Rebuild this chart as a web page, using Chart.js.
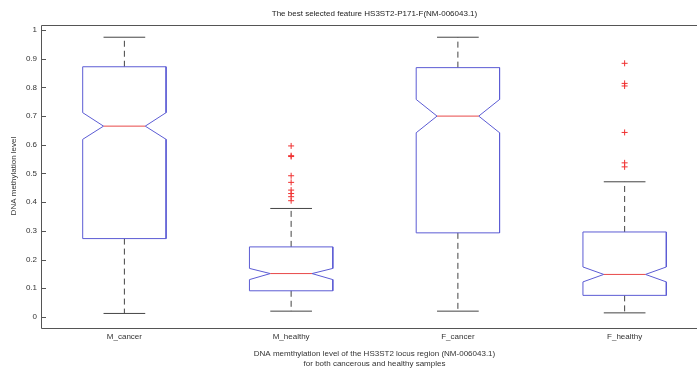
<!DOCTYPE html>
<html>
<head>
<meta charset="utf-8">
<script src="https://cdn.jsdelivr.net/npm/chart.js@4/dist/chart.umd.min.js"></script>
<style>
html,body{margin:0;padding:0;background:#fff;overflow:hidden;}
#wrap{width:720px;height:369px;}
</style>
</head>
<body>
<div id="wrap"><canvas id="c" width="720" height="369"></canvas></div>
<script>
// ---- data ----
const categories   = ['M_cancer', 'M_healthy', 'F_cancer', 'F_healthy'];
const upperWhisker = [0.975, 0.378, 0.975, 0.471];
const q3           = [0.872, 0.244, 0.869, 0.296];
const notchHigh    = [0.712, 0.169, 0.758, 0.174];
const medians      = [0.665, 0.151, 0.700, 0.148];
const notchLow     = [0.619, 0.130, 0.642, 0.122];
const q1           = [0.273, 0.091, 0.293, 0.075];
const lowerWhisker = [0.012, 0.020, 0.020, 0.014];
const outliers = [
  [],
  [0.596, 0.562, 0.559, 0.492, 0.469, 0.442, 0.430, 0.419, 0.405],
  [],
  [0.884, 0.814, 0.805, 0.643, 0.537, 0.523]
];
const yTickValues = [0, 0.1, 0.2, 0.3, 0.4, 0.5, 0.6, 0.7, 0.8, 0.9, 1];
const yTickLabels = ['0', '0.1', '0.2', '0.3', '0.4', '0.5', '0.6', '0.7', '0.8', '0.9', '1'];
const titleText = 'The best selected feature HS3ST2-P171-F(NM-006043.1)';
const xTitle = ['DNA memthylation level of the HS3ST2 locus region (NM-006043.1)', 'for both cancerous and healthy samples'];
const yTitle = 'DNA methylation level';

// ---- build line geometry from the values ----
const HALF = 0.25;      // half box width (x units)
const GAP = {x: null, y: null};
const boxPts = [], medPts = [], whiskPts = [], capPts = [], outPts = [];
categories.forEach((c, i) => {
  const x = i + 1;
  boxPts.push(
    {x: x - HALF, y: q1[i]}, {x: x - HALF, y: notchLow[i]}, {x: x - HALF / 2, y: medians[i]},
    {x: x - HALF, y: notchHigh[i]}, {x: x - HALF, y: q3[i]}, {x: x + HALF, y: q3[i]},
    {x: x + HALF, y: notchHigh[i]}, {x: x + HALF / 2, y: medians[i]}, {x: x + HALF, y: notchLow[i]},
    {x: x + HALF, y: q1[i]}, {x: x - HALF, y: q1[i]}, GAP);
  medPts.push({x: x - HALF / 2, y: medians[i]}, {x: x + HALF / 2, y: medians[i]}, GAP);
  whiskPts.push({x: x, y: q3[i]}, {x: x, y: upperWhisker[i]}, GAP,
                {x: x, y: q1[i]}, {x: x, y: lowerWhisker[i]}, GAP);
  capPts.push({x: x - HALF / 2, y: upperWhisker[i]}, {x: x + HALF / 2, y: upperWhisker[i]}, GAP,
              {x: x - HALF / 2, y: lowerWhisker[i]}, {x: x + HALF / 2, y: lowerWhisker[i]}, GAP);
  outliers[i].forEach(v => outPts.push({x: x, y: v}));
});

const FONT = {family: "'Liberation Sans', Arial, sans-serif", size: 8, weight: 'normal'};
const AXIS = '#555';

const frame = {
  id: 'frame',
  afterDatasetsDraw(chart) {
    const {ctx, chartArea: a, scales: {y}} = chart;
    ctx.save();
    ctx.strokeStyle = AXIS;
    ctx.lineWidth = 1;
    ctx.beginPath();
    ctx.rect(Math.round(a.left) + 0.5, Math.round(a.top) + 0.5,
             Math.round(a.right - a.left), Math.round(a.bottom - a.top));
    y.ticks.forEach(t => {
      const py = Math.round(y.getPixelForValue(t.value)) + 0.5;
      ctx.moveTo(a.left, py); ctx.lineTo(a.left + 5, py);
      ctx.moveTo(a.right, py); ctx.lineTo(a.right - 5, py);
    });
    ctx.stroke();
    ctx.restore();
  }
};

new Chart(document.getElementById('c'), {
  type: 'scatter',
  data: {
    datasets: [
      {data: outPts, showLine: false, pointStyle: 'cross', pointRadius: 3,
       borderColor: '#f03030', borderWidth: 1, backgroundColor: '#f03030'},
      {data: medPts, showLine: true, pointRadius: 0, borderColor: '#e84848', borderWidth: 1, spanGaps: false},
      {data: boxPts, showLine: true, pointRadius: 0, borderColor: '#5c5cd4', borderWidth: 1, spanGaps: false},
      {data: capPts, showLine: true, pointRadius: 0, borderColor: '#444', borderWidth: 1, spanGaps: false},
      {data: whiskPts, showLine: true, pointRadius: 0, borderColor: '#444', borderWidth: 1,
       borderDash: [6, 4], spanGaps: false}
    ]
  },
  options: {
    responsive: false,
    animation: false,
    devicePixelRatio: 1,
    layout: {padding: {left: 0, right: 12, top: 0, bottom: 0}},
    plugins: {
      legend: {display: false},
      tooltip: {enabled: false},
      title: {display: true, text: titleText, fullSize: false, color: '#222',
              font: {...FONT, lineHeight: 1.2}, padding: {top: 9, bottom: 6}}
    },
    scales: {
      x: {
        type: 'linear', min: 0.5, max: 4.5,
        grid: {display: false, drawTicks: false},
        border: {display: false},
        afterBuildTicks: s => { s.ticks = categories.map((c, i) => ({value: i + 1})); },
        afterFit: s => { s.height = 41.5; },
        ticks: {color: '#333', font: FONT, padding: 4, autoSkip: false, maxRotation: 0,
                callback: v => categories[v - 1] || ''},
        title: {display: true, text: xTitle, color: '#333', font: {...FONT, lineHeight: 1.3},
                padding: {top: 0, bottom: 0}}
      },
      y: {
        type: 'linear', min: -0.037, max: 1.019,
        grid: {display: false, drawTicks: false},
        border: {display: false},
        afterBuildTicks: s => { s.ticks = yTickValues.map(v => ({value: v})); },
        afterFit: s => { s.width = 41; },
        ticks: {color: '#333', font: FONT, padding: 4, autoSkip: false,
                callback: (v) => yTickLabels[yTickValues.indexOf(v)] ?? ''},
        title: {display: true, text: yTitle, color: '#333', font: {...FONT, lineHeight: 1.2},
                padding: {top: 9, bottom: 0}}
      }
    }
  },
  plugins: [frame]
});
</script>
</body>
</html>
